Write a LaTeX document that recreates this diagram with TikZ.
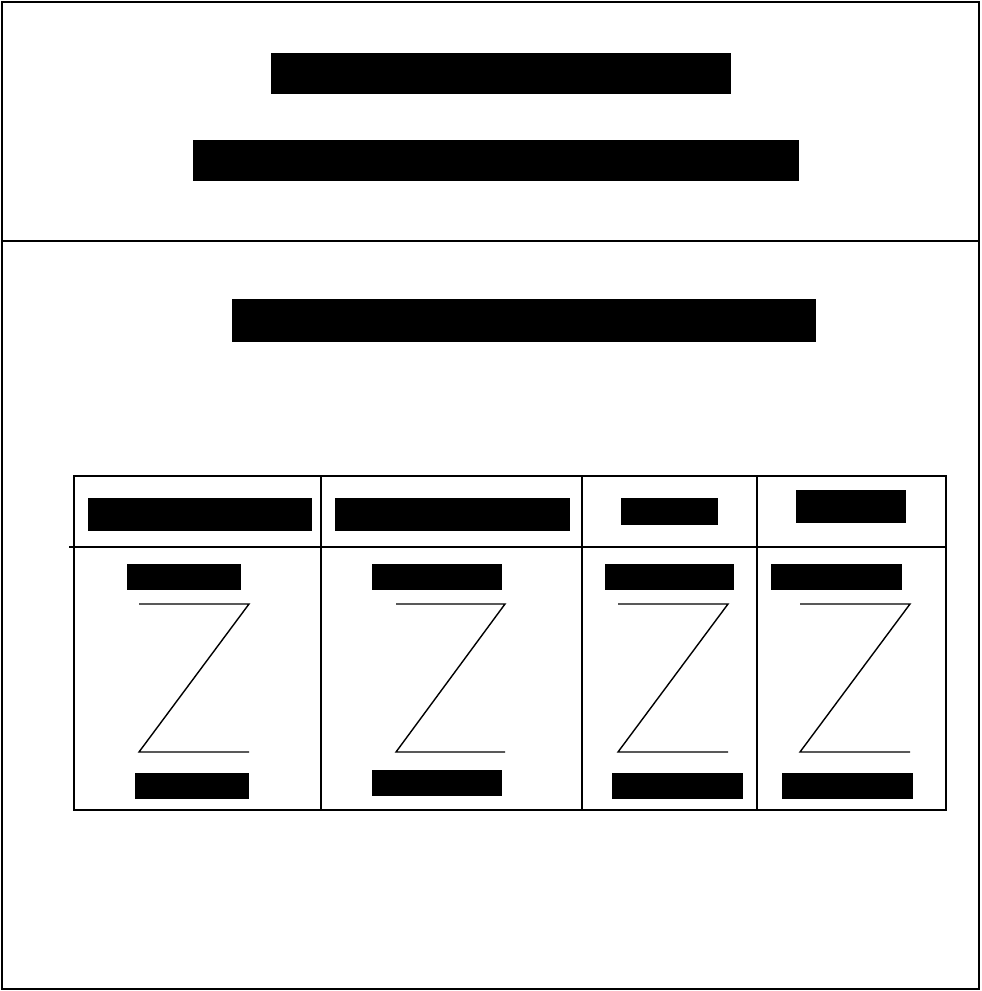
\documentclass[tikz,border=0pt]{standalone}
\usepackage{tikz}
\usetikzlibrary{positioning}

\begin{document}
\begin{tikzpicture}[
  x=.02cm,y=-.02cm,
  frame/.style={draw=black,line width=1pt},
  rule/.style={draw=black,line width=.8pt},
  zline/.style={draw=black,line width=.8pt},
  redact/.style 2 args={fill=black,inner sep=0pt,minimum width=#1*.02cm,minimum height=#2*.02cm}
]
  \useasboundingbox (0,0) rectangle (982,991);
  \draw[frame] (2,2) rectangle (979,989);
  \draw[frame] (2,241) -- (979,241);
  % title block
  \node[redact={460}{41}] (title) at (501,73.5) {};
  \node[redact={606}{41}] (subtitle) at (496,160.5) {};
  \node[redact={584}{43}] (caption) at (524,320.5) {};
  % table frame
  \draw[rule] (74,476) rectangle (946,810);
  \draw[rule] (69,547) -- (946,547);
  \foreach \x in {321,582,757}
    \draw[rule] (\x,476) -- (\x,810);
  % header cells
  \foreach \n/\cx/\cy/\w/\h in {1/200/514.5/224/33, 2/452.5/514/235/33, 3/669.5/511.5/97/27, 4/851/506.5/110/33}
    \node[redact={\w}{\h}] (head\n) at (\cx,\cy) {};
  % body cells
  \foreach \n/\tx/\tw/\bx/\bw/\by/\zl/\zr in {1/184/114/192/114/786/139/249,
      2/437/130/437/130/783/396/505, 3/669.5/129/677.5/131/786/618/728,
      4/836.5/131/847.5/131/786/800/910}
  {
    \node[redact={\tw}{26}] (top\n) at (\tx,577) {};
    \node[redact={\bw}{26}] (bot\n) at (\bx,\by) {};
    \draw[zline] (\zl,604) -- (\zr,604) -- (\zl,752) -- (\zr,752);
  }
\end{tikzpicture}
\end{document}
